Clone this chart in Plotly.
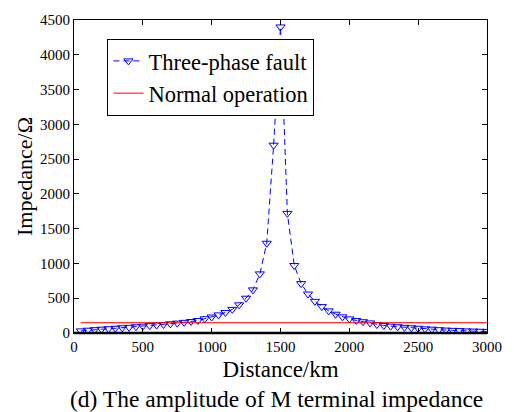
import plotly.graph_objects as go

distance_km = [50, 100, 150, 200, 250, 300, 350, 400, 450, 500,
               550, 600, 650, 700, 750, 800, 850, 900, 950, 1000,
               1050, 1100, 1150, 1200, 1250, 1300, 1350, 1400, 1450, 1500,
               1550, 1600, 1650, 1700, 1750, 1800, 1850, 1900, 1950, 2000,
               2050, 2100, 2150, 2200, 2250, 2300, 2350, 2400, 2450, 2500,
               2550, 2600, 2650, 2700, 2750, 2800, 2850, 2900, 2950, 3000]
fault_impedance = [30, 40, 48, 55, 62, 68, 75, 82, 90, 98,
                   106, 114, 122, 132, 142, 153, 165, 180, 205, 230,
                   260, 295, 340, 405, 500, 620, 850, 1290, 2700, 4400,
                   1720, 970, 710, 560, 455, 380, 318, 270, 232, 203,
                   180, 162, 145, 122, 108, 98, 90, 82, 75, 68,
                   60, 55, 48, 42, 38, 35, 30, 28, 25, 22]
normal_x = [50, 3000]
normal_impedance = [148, 148]

x_ticks = [0, 500, 1000, 1500, 2000, 2500, 3000]
y_ticks = [0, 500, 1000, 1500, 2000, 2500, 3000, 3500, 4000, 4500]

FONT = "Liberation Serif, Times New Roman, serif"

fig = go.Figure()
fig.add_trace(go.Scatter(
    x=distance_km, y=fault_impedance, mode="lines+markers",
    name="Three-phase fault",
    line=dict(color="#0000ff", width=1, dash="6px,4px"),
    marker=dict(symbol="triangle-down-open", size=8, color="#0000ff",
                line=dict(width=1, color="#0000ff")),
))
fig.add_trace(go.Scatter(
    x=normal_x, y=normal_impedance, mode="lines",
    name="Normal operation",
    line=dict(color="#ff0000", width=1),
))

axis_common = dict(
    showgrid=False, zeroline=False, showline=True, linecolor="black",
    linewidth=1, mirror="ticks", ticks="inside", ticklen=5,
    tickcolor="black", tickfont=dict(family=FONT, size=15, color="black"),
)

fig.update_layout(
    width=514, height=412,
    margin=dict(l=74, r=20, t=14, b=79),
    paper_bgcolor="white", plot_bgcolor="white",
    font=dict(family=FONT, color="black"),
    showlegend=True,
    legend=dict(
        x=0.081, y=0.94, xanchor="left", yanchor="top",
        bgcolor="white", bordercolor="black", borderwidth=1,
        font=dict(family=FONT, size=22.5, color="black"),
        itemwidth=30, tracegroupgap=0,
    ),
    xaxis=dict(range=[0, 3000], tickvals=x_ticks,
               title=dict(text="Distance/km", font=dict(family=FONT, size=23), standoff=6),
               **axis_common),
    yaxis=dict(range=[0, 4500], tickvals=y_ticks,
               title=dict(text="Impedance/Ω", font=dict(family=FONT, size=22), standoff=1),
               **axis_common),
    annotations=[dict(
        text="(d) The amplitude of M terminal impedance",
        xref="paper", yref="paper", x=0.49, y=-0.21,
        xanchor="center", yanchor="middle", showarrow=False,
        font=dict(family=FONT, size=23.5, color="black"),
    )],
    shapes=[dict(type="line", xref="paper", yref="paper", x0=0, x1=1, y0=0, y1=0,
                 line=dict(color="black", width=2.5))],
)

fig.write_html("out.html")
